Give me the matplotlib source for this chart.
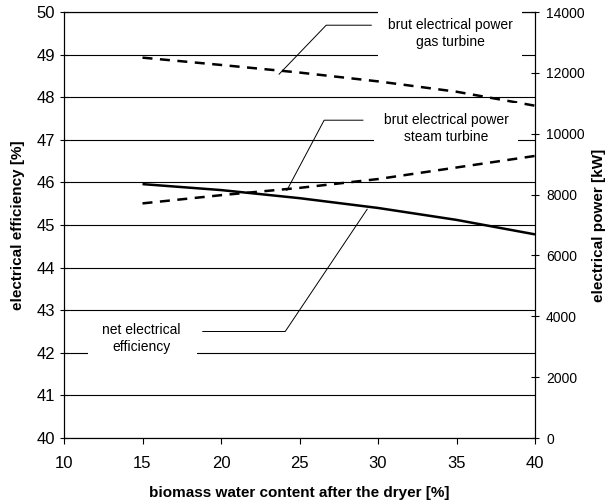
import matplotlib.pyplot as plt
from matplotlib.patches import Rectangle

plt.rcParams['font.family'] = ['Liberation Sans', 'DejaVu Sans']

# data
water = [15, 20, 25, 30, 35, 40]
net_eff = [45.96, 45.82, 45.63, 45.40, 45.12, 44.78]        # % (left axis)
gas_power = [12500, 12260, 12010, 11720, 11380, 10920]     # kW (right axis)
steam_power = [7710, 7980, 8220, 8510, 8890, 9270]         # kW (right axis)

x_ticks = [10, 15, 20, 25, 30, 35, 40]
left_ticks = list(range(40, 51))
right_ticks = list(range(0, 14001, 2000))

# callout labels: text position and leader line (left-axis data units)
gas_label = "brut electrical power\ngas turbine"
gas_text_xy = (34.6, 49.50)
gas_leader = ([29.57, 26.70, 23.70], [49.69, 49.69, 48.54])

steam_label = "brut electrical power\nsteam turbine"
steam_text_xy = (34.35, 47.26)
steam_leader = ([29.04, 26.57, 24.19], [47.46, 47.46, 45.81])

net_label = "net electrical\nefficiency"
net_text_xy = (14.95, 42.33)
net_leader = ([18.84, 24.09, 29.31], [42.50, 42.50, 45.37])
net_box = (11.53, 41.85, 6.95, 0.95)   # x, y, width, height of the white label area

fig = plt.figure(figsize=(6.06, 5.04), dpi=100)
ax = fig.add_axes([64 / 606, 1 - 438 / 504, (535 - 64) / 606, (438 - 12) / 504])

ax.set_xlim(10, 40)
ax.set_ylim(40, 50)
ax.set_xticks(x_ticks)
ax.set_yticks(left_ticks)
ax.grid(axis='y', color='black', linewidth=0.8)
ax.set_axisbelow(True)
ax.tick_params(axis='y', direction='inout', length=6, labelsize=12, width=0.8)
ax.tick_params(axis='x', direction='out', length=4, labelsize=12, width=0.8, pad=9)
for s in ax.spines.values():
    s.set_linewidth(0.8)
ax.set_xlabel('biomass water content after the dryer [%]', fontsize=11,
              fontweight='bold', labelpad=11)
ax.set_ylabel('electrical efficiency [%]', fontsize=11, fontweight='bold', labelpad=8)

ax.plot(water, net_eff, color='black', linewidth=1.8, solid_capstyle='butt', zorder=3)

ax2 = ax.twinx()
ax2.set_ylim(0, 14000)
ax2.set_yticks(right_ticks)
ax2.tick_params(axis='y', direction='inout', length=6, labelsize=10, width=0.8, pad=5)
ax2.spines['right'].set_linewidth(0.8)
ax2.set_ylabel('electrical power [kW]', fontsize=11, fontweight='bold', labelpad=5)

ax2.plot(water, gas_power, color='black', linewidth=1.8, dashes=(4, 3))
ax2.plot(water, steam_power, color='black', linewidth=1.8, dashes=(4, 3))

# leader lines and callout texts (drawn in left-axis coordinates, above gridlines)
for lx, ly in [gas_leader, steam_leader, net_leader]:
    ax2.plot(lx, ly, color='black', linewidth=0.7, transform=ax.transData)

box = dict(boxstyle='square,pad=0.7', facecolor='white', edgecolor='none')
ax2.text(gas_text_xy[0], gas_text_xy[1], gas_label, transform=ax.transData,
         ha='center', va='center', fontsize=10, bbox=box, linespacing=1.3)
ax2.text(steam_text_xy[0], steam_text_xy[1], steam_label, transform=ax.transData,
         ha='center', va='center', fontsize=10, bbox=box, linespacing=1.3)
ax2.add_patch(Rectangle(net_box[:2], net_box[2], net_box[3], facecolor='white',
                        edgecolor='none', transform=ax.transData, zorder=1))
ax2.text(net_text_xy[0], net_text_xy[1], net_label, transform=ax.transData,
         ha='center', va='center', fontsize=10, linespacing=1.3, zorder=4)

fig.savefig('out.png', dpi=100)
